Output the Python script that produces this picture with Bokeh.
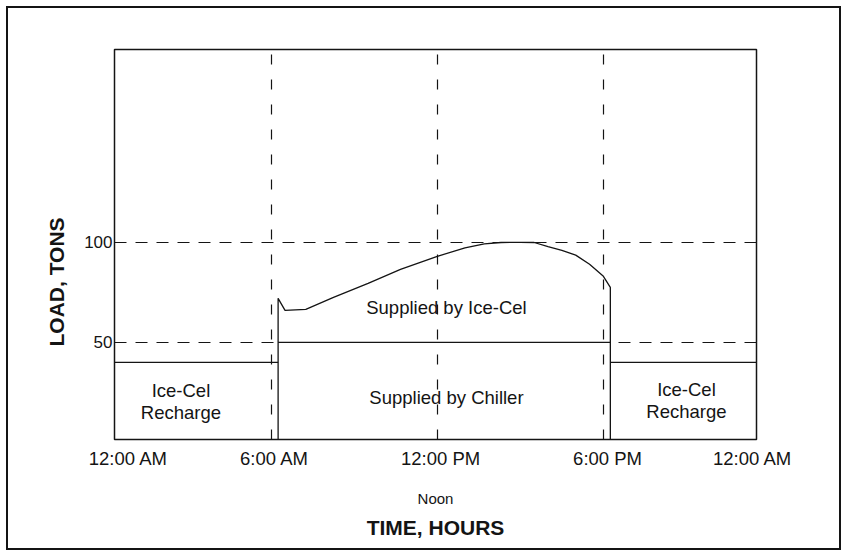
from bokeh.plotting import figure
from bokeh.models import FixedTicker, Range1d, LinearAxis, Title
from bokeh.core.properties import value
from bokeh.embed import file_html
from bokeh.resources import INLINE

# ---- data (hours of day, load in tons) ----
load_hours = [6.25, 6.25, 6.5, 7.25, 8.25, 9.5, 10.67, 12.0, 13.0, 13.7, 14.3,
              15.0, 15.5, 16.0, 16.5, 17.0, 17.5, 18.0, 18.25, 18.25]
load_tons = [0, 72, 66, 66.5, 72.5, 79.5, 86.5, 93, 97.2, 99.2, 99.9,
             100, 99.9, 97.8, 96, 93.6, 89, 83, 77.5, 0]
chiller_hours = [6.25, 18.25]
chiller_tons = [50, 50]
recharge_left_hours = [0, 6.25]
recharge_right_hours = [18.25, 24]
recharge_tons = [40, 40]
grid_hours = [6, 12, 18]
grid_tons = [50, 100]
tick_hours = [0.84, 6.12, 12.12, 18.15, 23.39]
tick_labels = ["12:00 AM", "6:00 AM", "12:00 PM", "6:00 PM", "12:00 AM"]
y_tick_tons = [50, 100]

region_text = ["Supplied by Ice-Cel", "Supplied by Chiller",
               "Ice-Cel", "Recharge", "Ice-Cel", "Recharge"]
region_hours = [12.33, 12.33, 2.74, 2.74, 21.0, 21.0]
region_tons = [67.5, 22.5, 25.9, 15.0, 26.7, 15.5]

INK = "#141414"
FONT = "Liberation Sans"

p = figure(width=847, height=556,
           x_range=Range1d(0.34, 23.53), y_range=Range1d(1.5, 196.3),
           output_backend="svg", toolbar_location=None,
           min_border_left=114, min_border_top=49,
           min_border_right=91, min_border_bottom=117,
           background_fill_color="white", border_fill_color=None)
# outer frame of the whole figure (drawn by the page, shows through the
# transparent border area of the plot)
p.styles = {"outline": "2px solid #141414", "outline-offset": "-8px",
            "background-color": "white"}

p.outline_line_color = INK
p.outline_line_width = 1.5

# axes
p.xaxis.ticker = FixedTicker(ticks=tick_hours)
p.xaxis.major_label_overrides = {t: l for t, l in zip(tick_hours, tick_labels)}
p.yaxis.ticker = FixedTicker(ticks=y_tick_tons)
for ax in (p.xaxis[0], p.yaxis[0]):
    ax.axis_line_color = None
    ax.major_tick_line_color = None
    ax.minor_tick_line_color = None
    ax.major_tick_out = 0
    ax.major_tick_in = 0
    ax.minor_tick_out = 0
    ax.minor_tick_in = 0
    ax.major_label_text_font = FONT
    ax.major_label_text_color = INK
    ax.axis_label_text_font = FONT
    ax.axis_label_text_color = INK
p.xaxis.major_label_text_font_size = "18.5px"
p.yaxis.major_label_text_font_size = "17px"
p.xaxis.major_label_standoff = 8
p.yaxis.major_label_standoff = 2

# "Noon" as the first x-axis label
p.xaxis.axis_label = "Noon"
p.xaxis.axis_label_text_font_style = "normal"
p.xaxis.axis_label_text_font_size = "15px"
p.xaxis.axis_label_standoff = 18

# second, label-only axis for the x title
x_title_axis = LinearAxis(ticker=FixedTicker(ticks=[]), axis_label="TIME, HOURS",
                          axis_line_color=None, major_tick_line_color=None,
                          minor_tick_line_color=None, major_tick_out=0,
                          major_tick_in=0, minor_tick_out=0, minor_tick_in=0,
                          axis_label_text_font=FONT, axis_label_text_font_style="bold",
                          axis_label_text_font_size="21px", axis_label_text_color=INK,
                          axis_label_standoff=6)
p.add_layout(x_title_axis, "below")

# y title, placed toward the lower part of the frame as in the original
p.add_layout(Title(text="LOAD, TONS", align="left", offset=93, vertical_align="middle",
                   text_font=FONT, text_font_style="bold", text_font_size="21px",
                   text_color=INK, standoff=26), "left")

# dashed grids
p.xgrid.ticker = FixedTicker(ticks=grid_hours)
p.ygrid.ticker = FixedTicker(ticks=grid_tons)
p.xgrid.grid_line_color = INK
p.xgrid.grid_line_width = 1.2
p.xgrid.grid_line_dash = "10 15"
p.ygrid.grid_line_color = INK
p.ygrid.grid_line_width = 1.2
p.ygrid.grid_line_dash = "12 9"

# lines
p.line(load_hours, load_tons, line_color=INK, line_width=1.3)
p.line(chiller_hours, chiller_tons, line_color=INK, line_width=1.1)
p.line(recharge_left_hours, recharge_tons, line_color=INK, line_width=1.2)
p.line(recharge_right_hours, recharge_tons, line_color=INK, line_width=1.2)

p.text(region_hours, region_tons, text=region_text, text_font=value(FONT),
       text_font_size="18.5px", text_color=INK, text_align="center",
       text_baseline="middle")

open("out.html", "w").write(file_html(p, INLINE))
